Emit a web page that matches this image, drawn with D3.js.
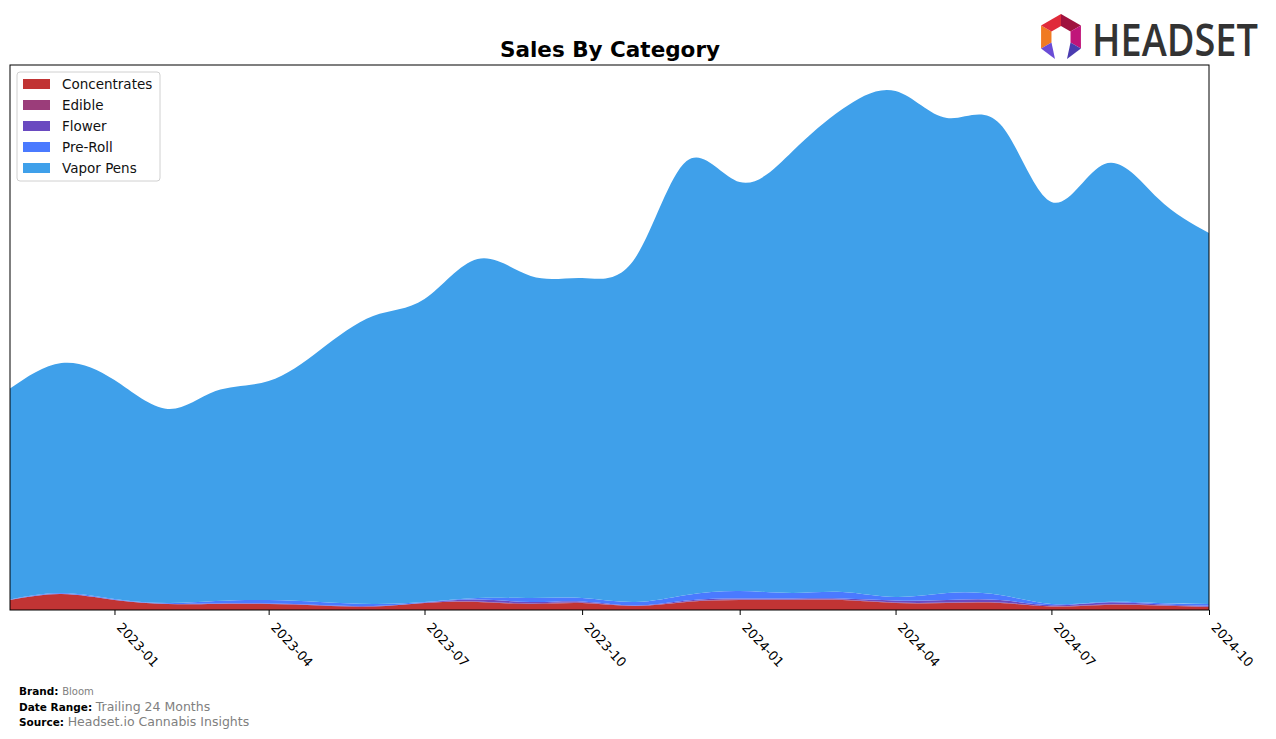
<!DOCTYPE html>
<html>
<head>
<meta charset="utf-8">
<script src="https://cdn.jsdelivr.net/npm/d3@7"></script>
<style>
  body { margin: 0; background: #fff; }
  svg { display: block; font-family: "DejaVu Sans", sans-serif; }
</style>
</head>
<body>
<svg id="chart" width="1276" height="739"></svg>
<script>
// monthly sales, one value per month from 2022-11 to 2024-10
const months = [
  '2022-11', '2022-12', '2023-01', '2023-02', '2023-03', '2023-04',
  '2023-05', '2023-06', '2023-07', '2023-08', '2023-09', '2023-10',
  '2023-11', '2023-12', '2024-01', '2024-02', '2024-03', '2024-04',
  '2024-05', '2024-06', '2024-07', '2024-08', '2024-09', '2024-10',
];
const concentrates = [10, 16, 10, 6, 6, 6, 4.5, 3.5, 7, 8, 6, 7, 4, 8, 10, 10, 10, 7, 7, 7, 3.5, 5, 4.5, 3];
const edible = [0, 0, 0, 0, 0, 0, 0, 0, 0, 0.5, 0.5, 0.5, 0, 0.5, 0.5, 0.5, 0.5, 0.5, 0.5, 0.5, 0.3, 0.5, 0.3, 0.3];
const flower = [0.3, 0.3, 0.3, 0.3, 0.5, 0.5, 0.5, 0.5, 0.5, 2, 1.5, 1, 0.5, 1, 1, 1, 1, 2, 2.5, 2.5, 1, 2, 1, 1];
const preRoll = [0.2, 0.7, 0.7, 0.7, 2.5, 3.5, 3, 2, 0.5, 1.5, 4, 3.5, 3.5, 5.5, 7.5, 5.5, 6.5, 3.5, 7, 5, 1.2, 0.5, 1.2, 1.7];
const vaporPens = [211, 230, 219, 194, 210, 219, 252, 288, 303, 339, 322, 320, 344, 434, 409, 442, 483, 506, 475, 471, 402, 438, 405, 371];

const categories = ['Concentrates', 'Edible', 'Flower', 'Pre-Roll', 'Vapor Pens'];
const seriesValues = [concentrates, edible, flower, preRoll, vaporPens];
const colors = ['#c13434', '#9b3d7a', '#6a4ac0', '#4a7aff', '#3fa0ea'];
const tickLabels = ['2023-01', '2023-04', '2023-07', '2023-10', '2024-01', '2024-04', '2024-07', '2024-10'];

const parse = d3.timeParse('%Y-%m');
const rows = months.map((m, i) => {
  const row = {date: parse(m)};
  categories.forEach((c, k) => { row[c] = seriesValues[k][i]; });
  return row;
});

const svg = d3.select('#chart');
const margin = {left: 10, right: 67, top: 65, bottom: 129};
const width = 1276 - margin.left - margin.right;
const height = 739 - margin.top - margin.bottom;

const x = d3.scaleTime()
  .domain(d3.extent(rows, d => d.date))
  .range([margin.left, margin.left + width]);
const y = d3.scaleLinear()
  .domain([0, 545])
  .range([margin.top + height, margin.top]);

const stack = d3.stack().keys(categories);
const layers = stack(rows);

// smooth the monthly points like the spline in the original
const area = d3.area()
  .curve(d3.curveNatural)
  .x(d => x(d.data.date))
  .y0(d => y(d[0]))
  .y1(d => y(d[1]));

svg.append('g')
  .selectAll('path')
  .data(layers)
  .join('path')
  .attr('fill', (d, i) => colors[i])
  .attr('d', area);

// frame
svg.append('rect')
  .attr('x', margin.left)
  .attr('y', margin.top)
  .attr('width', width)
  .attr('height', height)
  .attr('fill', 'none')
  .attr('stroke', '#000')
  .attr('stroke-width', 1);

// x axis
const xAxis = d3.axisBottom(x)
  .tickValues(tickLabels.map(parse))
  .tickFormat(d3.timeFormat('%Y-%m'))
  .tickSize(5)
  .tickSizeOuter(0);
const gx = svg.append('g')
  .attr('transform', `translate(0,${margin.top + height})`)
  .call(xAxis);
gx.select('.domain').remove();
gx.selectAll('.tick line').attr('stroke', '#000');
gx.selectAll('.tick text')
  .attr('fill', '#000')
  .style('font-size', '13px')
  .style('font-family', '"DejaVu Sans", sans-serif')
  .attr('text-anchor', 'start')
  .attr('transform', 'translate(1,18) rotate(47)')
  .attr('dy', 0)
  .attr('y', 0)
  .attr('x', 0);

// title
svg.append('text')
  .attr('x', 610)
  .attr('y', 57)
  .attr('text-anchor', 'middle')
  .style('font-size', '21.5px')
  .style('font-weight', 'bold')
  .text('Sales By Category');

// legend
const legend = svg.append('g').attr('transform', 'translate(17,72)');
legend.append('rect')
  .attr('width', 143)
  .attr('height', 109)
  .attr('rx', 3)
  .attr('fill', '#fff')
  .attr('fill-opacity', 0.8)
  .attr('stroke', '#d0d0d0');
const items = legend.selectAll('g.item')
  .data(categories)
  .join('g')
  .attr('class', 'item')
  .attr('transform', (d, i) => `translate(6,${7 + i * 21})`);
items.append('rect')
  .attr('width', 27)
  .attr('height', 10)
  .attr('fill', (d, i) => colors[i]);
items.append('text')
  .attr('x', 39)
  .attr('y', 5)
  .attr('dy', '0.36em')
  .style('font-size', '13.5px')
  .attr('fill', '#111')
  .text(d => d);

// footer
const footer = [
  ['Brand:', 'Bloom', 10],
  ['Date Range:', 'Trailing 24 Months', 12.5],
  ['Source:', 'Headset.io Cannabis Insights', 12.5],
];
footer.forEach(([label, value, size], i) => {
  const t = svg.append('text')
    .attr('x', 19)
    .attr('y', 695 + i * 15.5);
  t.append('tspan')
    .style('font-size', '10.5px')
    .style('font-weight', 'bold')
    .attr('fill', '#000')
    .text(label + ' ');
  t.append('tspan')
    .style('font-size', size + 'px')
    .attr('fill', '#808080')
    .text(value);
});

// logo
const logo = svg.append('g').attr('transform', 'translate(1061,37)');
const P = (a, r) => [r * Math.cos(a * Math.PI / 180), r * Math.sin(a * Math.PI / 180)];
const facets = [
  {pts: [P(150, 23), P(210, 23), P(210, 11), P(150, 11)], c: '#f07a22'},
  {pts: [P(210, 23), P(270, 23), P(270, 11), P(210, 11)], c: '#e02a3a'},
  {pts: [P(270, 23), P(330, 23), P(330, 11), P(270, 11)], c: '#a0123e'},
  {pts: [P(330, 23), P(30, 23), P(30, 11), P(330, 11)], c: '#c0157a'},
  {pts: [P(150, 23), P(150, 11), [-6, 22]], c: '#6a4cd6'},
  {pts: [P(30, 23), P(30, 11), [6, 22]], c: '#4a3cb0'},
];
logo.selectAll('polygon')
  .data(facets)
  .join('polygon')
  .attr('points', d => d.pts.map(p => p.join(',')).join(' '))
  .attr('fill', d => d.c);
const word = svg.append('text')
  .attr('x', 0)
  .attr('y', 0)
  .style('font-family', '"Open Sans", sans-serif')
  .style('font-size', '46px')
  .style('font-weight', 600)
  .attr('fill', '#333')
  .text('HEADSET');
const wordWidth = word.node().getComputedTextLength();
word.attr('transform', `translate(1092,56) scale(${166 / wordWidth},1)`);
</script>
</body>
</html>
